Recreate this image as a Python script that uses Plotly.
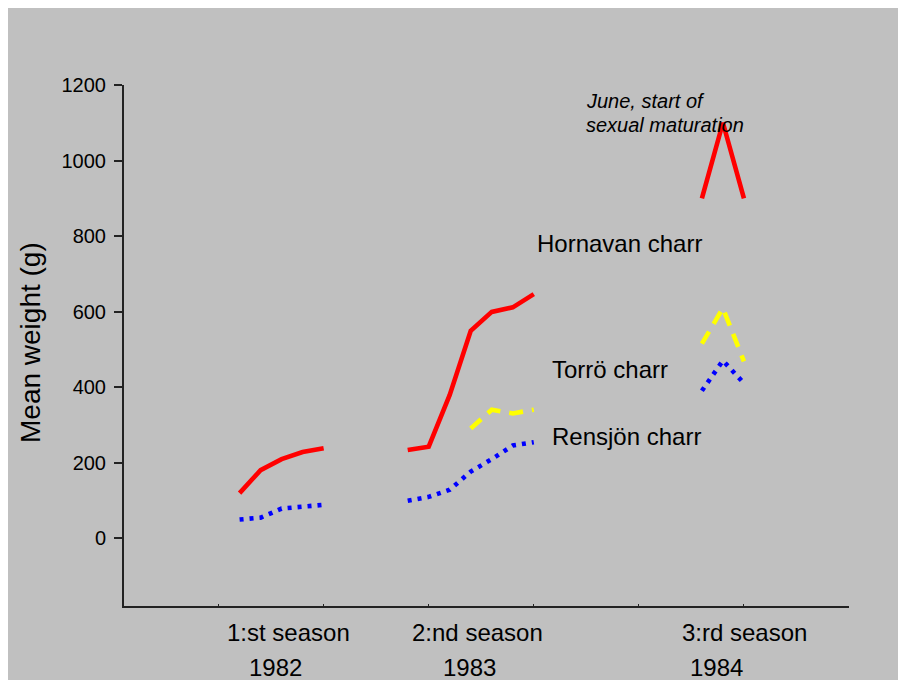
import plotly.graph_objects as go

# ---- data (x = month index from start of 1st season) ----
x_s1 = [0, 1, 2, 3, 4]
x_s2 = [8, 9, 10, 11, 12, 13, 14]
x_s2_torro = [11, 12, 13, 14]
x_s3 = [22, 23, 24]

hornavan_s1 = [119, 180, 209, 228, 238]
hornavan_s2 = [233, 242, 379, 549, 599, 611, 646]
hornavan_s3 = [900, 1100, 900]

torro_s2 = [290, 340, 330, 340]
torro_s3 = [515, 609, 468]

rensjon_s1 = [49, 54, 78, 83, 88]
rensjon_s2 = [99, 109, 128, 176, 209, 245, 254]
rensjon_s3 = [390, 470, 410]

y_ticks = [0, 200, 400, 600, 800, 1000, 1200]
season_labels = ["1:st season", "2:nd season", "3:rd season"]
year_labels = ["1982", "1983", "1984"]
series_labels = ["Hornavan charr", "Torrö charr", "Rensjön charr"]
note_lines = ["June, start of", "sexual maturation"]

# ---- layout geometry (page has an 8px body margin) ----
OFF = 8
W, H = 906, 680
L, R, T, B = 116, 65, 77, 82
PW, PH = W - L - R, H - T - B
FONT = "Liberation Sans, Arial, sans-serif"
GRAY = "#C0C0C0"


def px(x):
    return (x - OFF - L) / PW


def py(y):
    return (H - B - (y - OFF)) / PH


fig = go.Figure()

RED = dict(color="#FF0000", width=4.6)
YEL = dict(color="#FFFF00", width=4.6, dash="14px,9px")
BLU = dict(color="#0000FF", width=4.6, dash="4px,6px")

for xs, ys in [(x_s1, hornavan_s1), (x_s2, hornavan_s2), (x_s3, hornavan_s3)]:
    fig.add_trace(go.Scatter(x=xs, y=ys, mode="lines", line=RED, showlegend=False))
for xs, ys in [(x_s2_torro, torro_s2), (x_s3, torro_s3)]:
    fig.add_trace(go.Scatter(x=xs, y=ys, mode="lines", line=YEL, showlegend=False))
for xs, ys in [(x_s1, rensjon_s1), (x_s2, rensjon_s2), (x_s3, rensjon_s3)]:
    fig.add_trace(go.Scatter(x=xs, y=ys, mode="lines", line=BLU, showlegend=False))

annotations = []
# y-axis title
annotations.append(dict(x=px(30), y=py(343), xref="paper", yref="paper",
                        text="Mean weight (g)", textangle=-90, showarrow=False,
                        xanchor="center", yanchor="middle",
                        font=dict(family=FONT, size=28, color="black")))
# season labels
for label, cx in zip(season_labels, [288, 477, 744]):
    annotations.append(dict(x=px(cx), y=py(632), xref="paper", yref="paper",
                            text=label, showarrow=False, xanchor="center",
                            yanchor="middle",
                            font=dict(family=FONT, size=24, color="black")))
for label, cx in zip(year_labels, [275, 469, 716]):
    annotations.append(dict(x=px(cx), y=py(667), xref="paper", yref="paper",
                            text=label, showarrow=False, xanchor="center",
                            yanchor="middle",
                            font=dict(family=FONT, size=24, color="black")))
# series labels
for label, lx, cy in zip(series_labels, [535, 550, 550], [243, 369, 436]):
    annotations.append(dict(x=px(lx), y=py(cy), xref="paper", yref="paper",
                            text=label, showarrow=False, xanchor="left",
                            yanchor="middle",
                            font=dict(family=FONT, size=24, color="black")))
# italic note
for line, cy in zip(note_lines, [101, 125]):
    annotations.append(dict(x=px(584), y=py(cy), xref="paper", yref="paper",
                            text="<i>" + line + "</i>", showarrow=False,
                            xanchor="left", yanchor="middle",
                            font=dict(family=FONT, size=20, color="black")))

fig.update_layout(
    width=W, height=H,
    margin=dict(l=L, r=R, t=T, b=B, pad=0),
    paper_bgcolor=GRAY, plot_bgcolor=GRAY,
    showlegend=False,
    annotations=annotations,
    xaxis=dict(range=[-5.5, 29.0], showgrid=False, zeroline=False,
               showline=True, linecolor="#222", linewidth=2,
               ticks="inside", ticklen=2, tickwidth=1, tickcolor="#222",
               tick0=-1, dtick=5, showticklabels=False),
    yaxis=dict(range=[-180, 1200], showgrid=False, zeroline=False,
               showline=True, linecolor="#222", linewidth=2,
               ticks="outside", ticklen=8, tickwidth=1.5, tickcolor="#222",
               ticklabelstandoff=4,
               tickvals=y_ticks, ticktext=[str(v) for v in y_ticks],
               tickfont=dict(family=FONT, size=20, color="black")),
)

fig.write_html("out.html")
